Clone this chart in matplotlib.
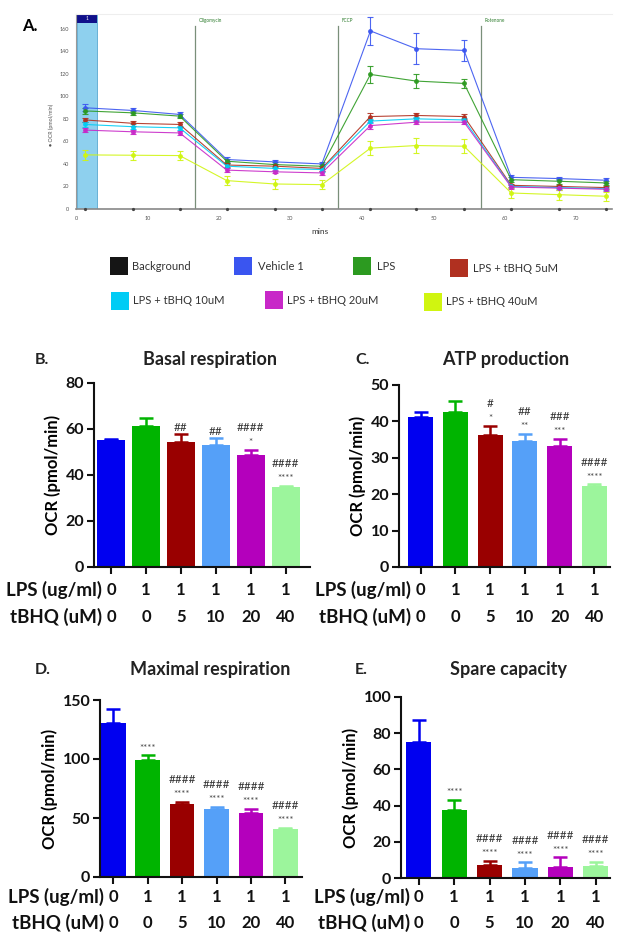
import matplotlib
matplotlib.use('Agg')
import matplotlib.pyplot as plt
from matplotlib.patches import Rectangle
import matplotlib.transforms as mtransforms

plt.rcParams['font.family'] = ['Lato', 'DejaVu Sans']

# ---- panel A data (Seahorse trace) ----
times = [1.3, 8.0, 14.5, 21.1, 27.8, 34.4, 41.2, 47.6, 54.3, 60.9, 67.6, 74.2]
background = [0, 0, 0, 0, 0, 0, 0, 0, 0, 0, 0, 0]
vehicle = [89.8, 87.4, 83.9, 43.9, 41.8, 40.0, 158.0, 142.2, 140.7, 28.1, 27.0, 25.5]
lps = [87.0, 85.3, 82.4, 42.4, 39.4, 37.9, 119.4, 113.5, 111.4, 26.0, 24.6, 23.1]
tbhq5 = [79.0, 76.0, 75.0, 39.0, 38.0, 36.0, 82.0, 83.0, 82.0, 21.0, 20.0, 19.0]
tbhq10 = [75.0, 73.0, 72.0, 38.0, 36.0, 35.0, 78.0, 80.0, 79.0, 20.0, 19.0, 18.0]
tbhq20 = [70.0, 68.5, 67.5, 34.5, 33.0, 32.0, 74.0, 77.0, 77.0, 19.5, 18.5, 17.5]
tbhq40 = [48.0, 47.7, 47.4, 25.2, 22.2, 21.6, 54.0, 56.3, 55.7, 14.2, 12.7, 11.3]

vehicle_err = [3, 2.5, 2, 2, 1.5, 1.5, 12.5, 14, 9, 2.5, 1.5, 2]
lps_err = [2.5, 2, 2, 2, 2, 2, 7.5, 6, 4, 2, 2, 2]
tbhq5_err = [2, 2, 2, 2, 2, 2, 3, 2, 2, 1.5, 1.5, 1.5]
tbhq10_err = [2, 2, 2, 2, 2, 2, 2, 2, 2, 1.5, 1.5, 1.5]
tbhq20_err = [2, 2, 2, 2, 1.5, 1.5, 3, 2, 2, 1.5, 1.5, 1.5]
tbhq40_err = [4.5, 4, 4, 4, 4.5, 4, 6.5, 7, 6, 4, 4.5, 4]

injections = [16.6, 36.6, 56.6]
injection_names = ['Oligomycin', 'FCCP', 'Rotenone']

legend_names = ['Background', 'Vehicle 1', 'LPS', 'LPS + tBHQ 5uM',
                'LPS + tBHQ 10uM', 'LPS + tBHQ 20uM', 'LPS + tBHQ 40uM']
legend_colors = ['#151515', '#3a55f0', '#2c9a20', '#b03020',
                 '#00ccf5', '#c828c8', '#d0f510']

# ---- bar panels data ----
lps_dose = ['0', '1', '1', '1', '1', '1']
tbhq_dose = ['0', '0', '5', '10', '20', '40']
bar_colors = ['#0000f0', '#00b400', '#990000', '#55a0f8', '#b400bc', '#9cf59c']

basal = [55.3, 61.4, 54.5, 53.1, 48.7, 35.0]
basal_err = [0.4, 3.3, 3.2, 2.8, 2.2, 0.4]
basal_hash = ['', '', '##', '##', '####', '####']
basal_star = ['', '', '', '', '*', '****']

atp = [41.3, 42.7, 36.4, 34.6, 33.2, 22.2]
atp_err = [1.4, 3.0, 2.3, 1.9, 2.0, 0.5]
atp_hash = ['', '', '#', '##', '###', '####']
atp_star = ['', '', '*', '**', '***', '****']

maximal = [130.2, 99.0, 61.7, 58.0, 54.3, 40.8]
maximal_err = [11.8, 4.0, 2.0, 1.2, 3.7, 0.8]
maximal_hash = ['', '', '####', '####', '####', '####']
maximal_star = ['', '****', '****', '****', '****', '****']

spare = [74.9, 37.6, 7.2, 5.5, 5.9, 6.4]
spare_err = [12.6, 5.5, 2.3, 3.1, 5.5, 2.4]
spare_hash = ['', '', '####', '####', '####', '####']
spare_star = ['', '****', '****', '****', '****', '****']

W, H = 624, 944
fig = plt.figure(figsize=(W / 100, H / 100), dpi=100)


def box(left, top, right, bottom):
    return [left / W, 1 - bottom / H, (right - left) / W, (bottom - top) / H]


# ================= panel A =================
axA = fig.add_axes(box(76, 14, 612, 209))
axA.set_xlim(0, 75)
axA.set_ylim(0, 173)
axA.add_patch(Rectangle((0.1, 0), 2.8, 173, facecolor='#8ed0ee', edgecolor='#5aa8d0',
                        lw=0.6, zorder=1))
axA.add_patch(Rectangle((0.1, 165), 2.8, 8, facecolor='#10108a', edgecolor='none', zorder=2))
axA.text(1.5, 169, '1', color='white', fontsize=3.5, ha='center', va='center', zorder=3)

for xv, name in zip(injections, injection_names):
    axA.axvline(xv, color='#7a8f7a', lw=0.9, ymax=0.94, zorder=1)
    axA.text(xv + 0.6, 167, name, color='#2a7a2a', fontsize=3.3, ha='left', va='center')

series = [(vehicle, vehicle_err, legend_colors[1]),
          (lps, lps_err, legend_colors[2]),
          (tbhq5, tbhq5_err, legend_colors[3]),
          (tbhq10, tbhq10_err, legend_colors[4]),
          (tbhq20, tbhq20_err, legend_colors[5]),
          (tbhq40, tbhq40_err, legend_colors[6])]
for vals, errs, col in series:
    axA.errorbar(times, vals, yerr=errs, color=col, lw=0.8, marker='o', ms=2.5,
                 capsize=2, elinewidth=0.8, capthick=0.8, zorder=4, alpha=0.9)
axA.plot(times, background, 'o', color='#444444', ms=1.3, zorder=5, clip_on=False)

axA.set_yticks(range(0, 161, 20))
axA.set_xticks(range(0, 71, 10))
axA.tick_params(labelsize=4, colors='#555555', length=0, pad=5)
axA.spines['right'].set_visible(False)
axA.spines['top'].set_color('#eeeeee')
axA.spines['left'].set_color('#999999')
axA.spines['bottom'].set_color('#888888')
axA.spines['bottom'].set_linewidth(1.2)
fig.text(51 / W, 1 - 125 / H, '\u25cf OCR (pmol/min)', rotation=90, fontsize=3.8,
         color='#555555', ha='center', va='center')
fig.text(320 / W, 1 - 231 / H, 'mins', fontsize=6, color='#333333', ha='center', va='center')
fig.text(22 / W, 1 - 26 / H, 'A.', fontsize=12, fontweight='bold', ha='left', va='center')

# legend
legend_pos = [(110, 257, 132), (234, 257, 258), (353, 257, 377), (450, 259, 473),
              (111, 292, 133), (265, 291, 287), (424, 293, 446)]
for (sx, sy, tx), name, col in zip(legend_pos, legend_names, legend_colors):
    fig.patches.append(Rectangle((sx / W, 1 - (sy + 18) / H), 18 / W, 18 / H,
                                 facecolor=col, edgecolor='none', transform=fig.transFigure,
                                 figure=fig))
    fig.text(tx / W, 1 - (sy + 9) / H, name, fontsize=8, color='#333333',
             ha='left', va='center')


# ================= bar panels =================
def bar_panel(rect, vals, errs, hashes, stars, ymax, ystep, xlim, width,
              title, title_xy, letter_xy, letter, rows_y, label_x):
    ax = fig.add_axes(box(*rect))
    xs = list(range(len(vals)))
    ax.bar(xs, vals, width=width, color=bar_colors, zorder=2)
    for x, v, e, c in zip(xs, vals, errs, bar_colors):
        ax.errorbar([x], [v], yerr=[[0], [e]], fmt='none', ecolor=c, elinewidth=1.8,
                    capsize=5, capthick=1.8, zorder=1)
    for x, v, e, hs, st in zip(xs, vals, errs, hashes, stars):
        top = v + e
        if st:
            ax.annotate(st, (x, top), xytext=(0, 2), textcoords='offset points',
                        ha='center', va='bottom', fontsize=7, color='#444444')
            if hs:
                ax.annotate(hs, (x, top), xytext=(0, 12), textcoords='offset points',
                            ha='center', va='bottom', fontsize=8.5, color='#333333')
        elif hs:
            ax.annotate(hs, (x, top), xytext=(0, 1), textcoords='offset points',
                        ha='center', va='bottom', fontsize=8.5, color='#333333')
    ax.set_xlim(*xlim)
    ax.set_ylim(0, ymax)
    ax.set_yticks(range(0, ymax + 1, ystep))
    ax.set_xticks(xs)
    ax.set_xticklabels([])
    for s in ['top', 'right']:
        ax.spines[s].set_visible(False)
    for s in ['left', 'bottom']:
        ax.spines[s].set_linewidth(1.5)
        ax.spines[s].set_color('#111111')
    ax.tick_params(width=1.5, length=5, labelsize=11.5, colors='#111111', pad=2)
    for lab in ax.get_yticklabels():
        lab.set_fontweight('bold')
    ax.set_ylabel('OCR (pmol/min)', fontsize=12, fontweight='bold', labelpad=3)
    trans = mtransforms.blended_transform_factory(ax.transData, fig.transFigure)
    for ry, labels, name in zip(rows_y, [lps_dose, tbhq_dose], ['LPS (ug/ml)', 'tBHQ (uM)']):
        for x, t in zip(xs, labels):
            ax.text(x, 1 - ry / H, t, transform=trans, ha='center', va='center',
                    fontsize=12, fontweight='bold', color='#111111')
        fig.text(label_x / W, 1 - ry / H, name, ha='right', va='center',
                 fontsize=13.5, fontweight='bold', color='#111111')
    fig.text(title_xy[0] / W, 1 - title_xy[1] / H, title, ha='center', va='center',
             fontsize=13, fontweight='bold', color='#222222')
    fig.text(letter_xy[0] / W, 1 - letter_xy[1] / H, letter, ha='left', va='center',
             fontsize=11.5, fontweight='bold', color='#222222')
    return ax


bar_panel((94, 383, 310, 567), basal, basal_err, basal_hash, basal_star, 80, 20,
          (-0.49, 5.7), 0.8, 'Basal respiration', (210, 360), (35, 360), 'B.',
          (590, 617), 102)
bar_panel((399, 385, 610, 567), atp, atp_err, atp_hash, atp_star, 50, 10,
          (-0.62, 5.45), 0.72, 'ATP production', (506, 360), (355, 360), 'C.',
          (590, 617), 411)
bar_panel((100, 700, 302, 877), maximal, maximal_err, maximal_hash, maximal_star, 150, 50,
          (-0.38, 5.48), 0.72, 'Maximal respiration', (210, 670), (35, 670), 'D.',
          (897, 923), 104)
bar_panel((401, 697, 610, 878), spare, spare_err, spare_hash, spare_star, 100, 20,
          (-0.5, 5.4), 0.71, 'Spare capacity', (508, 670), (355, 670), 'E.',
          (897, 923), 410)

fig.savefig('out.png', dpi=100)
